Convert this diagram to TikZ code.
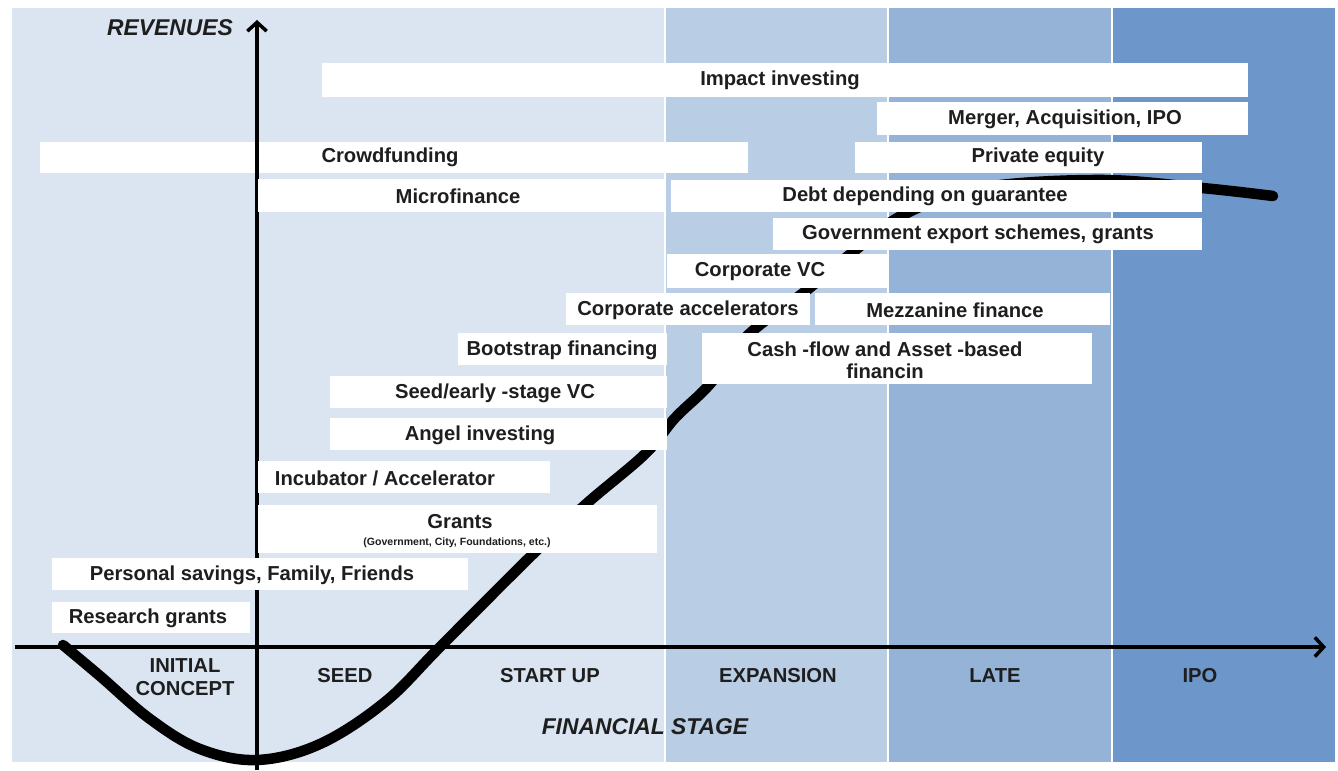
\documentclass[tikz,border=0pt]{standalone}
\usepackage{fontspec}
\setmainfont{Liberation Sans}
\usetikzlibrary{arrows.meta}
\definecolor{stageone}{HTML}{DAE5F1}
\definecolor{stagetwo}{HTML}{B9CDE5}
\definecolor{stagethree}{HTML}{95B3D7}
\definecolor{stagefour}{HTML}{6D96CA}
\definecolor{inkgray}{HTML}{1E1E1E}

\tikzset{
  fundbox/.style={fill=white,draw=none},
  fund/.style={font=\fontsize{11.5}{12.5}\selectfont\bfseries,text=inkgray,inner sep=0pt,align=center},
  stage/.style={font=\fontsize{11.5}{13}\selectfont\bfseries,text=inkgray,align=center},
  axislabel/.style={font=\fontsize{13}{15}\selectfont\bfseries\itshape,text=inkgray},
  axisline/.style={line width=2.2pt,-{Straight Barb[length=5pt,width=11pt,line width=2pt]}}
}

\begin{document}
\begin{tikzpicture}[x=0.2cm,y=0.2cm]
  \useasboundingbox[fill=white] (0,0) rectangle (133.8,77);

  % stage columns
  \fill[stageone]   (1.2,0.8) rectangle (66.5,76.2);
  \fill[stagetwo]   (66.5,0.8) rectangle (88.8,76.2);
  \fill[stagethree] (88.8,0.8) rectangle (111.2,76.2);
  \fill[stagefour]  (111.2,0.8) rectangle (133.5,76.2);
  \foreach \x in {66.5,88.8,111.2}
    \draw[white,line width=0.8pt] (\x,0.8) -- (\x,76.2);

  % revenue curve, hidden behind the boxes further up
  \draw[line width=6pt,line cap=round] plot[smooth,tension=0.6] coordinates {
    (6.3,12.5) (10,9.4) (15,5.1) (20,2.1) (25.7,1) (32,2.6) (38.5,6.8) (44,12.3)
    (53,21.3) (58.5,26.5) (64.5,31.6) (67.5,35.2) (71,38.6) (74.7,43.4) (80.7,48)
    (85.3,51.8) (90.3,55.5) (98,58.2) (110,59) (120.2,58.2) (127.3,57.4)};

  \fill[fundbox] (4,62.8) rectangle (74.8,59.7);
  \node[fund] (crowd) at (39,61.3) {Crowdfunding};

  % axes
  \coordinate (xstart) at (1.5,12.3);
  \coordinate (xend) at (132.6,12.3);
  \coordinate (ystart) at (25.7,0);
  \coordinate (yend) at (25.7,75);
  \draw[axisline] (xstart) -- (xend);
  \draw[axisline] (ystart) -- (yend);
  \node[axislabel,anchor=east] (rev) at (23.9,74.2) {REVENUES};
  \node[axislabel] (finstage) at (64.5,4.3) {FINANCIAL STAGE};

  % financing sources
  \fill[fundbox] (32.2,70.7) rectangle (124.8,67.3);
  \node[fund] (impact) at (78,69) {Impact investing};
  \fill[fundbox] (87.7,66.8) rectangle (124.8,63.5);
  \node[fund] (merger) at (106.5,65.1) {Merger, Acquisition, IPO};
  \fill[fundbox] (85.5,62.8) rectangle (120.2,59.7);
  \node[fund] (private) at (103.8,61.3) {Private equity};
  \fill[fundbox] (25.8,59.1) rectangle (66.5,55.8);
  \node[fund] (micro) at (45.8,57.4) {Microfinance};
  \fill[fundbox] (67.1,59) rectangle (120.2,55.8);
  \node[fund] (debt) at (92.5,57.4) {Debt depending on guarantee};
  \fill[fundbox] (77.3,55.2) rectangle (120.2,52);
  \node[fund] (export) at (97.8,53.6) {Government export schemes, grants};
  \fill[fundbox] (66.7,51.6) rectangle (88.7,48.2);
  \node[fund] (corpvc) at (76,49.8) {Corporate VC};
  \fill[fundbox] (56.6,47.7) rectangle (81,44.5);
  \node[fund] (corpacc) at (68.8,46) {Corporate accelerators};
  \fill[fundbox] (81.5,47.7) rectangle (111,44.5);
  \node[fund] (mezz) at (95.5,46) {Mezzanine finance};
  \fill[fundbox] (45.8,43.7) rectangle (66.7,40.5);
  \node[fund] (bootstrap) at (56.2,42) {Bootstrap financing};
  \fill[fundbox] (70.2,43.7) rectangle (109.2,38.6);
  \node[fund] (cashflow) at (88.5,41) {Cash -flow and Asset -based\\financin};
  \fill[fundbox] (33,39.4) rectangle (66.7,36.2);
  \node[fund] (seedvc) at (49.5,37.7) {Seed/early -stage VC};
  \fill[fundbox] (33,35.2) rectangle (66.7,32);
  \node[fund] (angel) at (48,33.5) {Angel investing};
  \fill[fundbox] (25.8,30.9) rectangle (55,27.7);
  \node[fund] (incub) at (38.5,29.2) {Incubator / Accelerator};
  \fill[fundbox] (25.8,26.5) rectangle (65.7,21.7);
  \node[fund] (grants) at (46,24.8) {Grants};
  \node[fund,font=\fontsize{6}{7}\selectfont\bfseries] (grantsub) at (45.7,22.7)
    {(Government, City, Foundations, etc.)};
  \fill[fundbox] (5.2,21.2) rectangle (46.8,18);
  \node[fund] (savings) at (25.2,19.5) {Personal savings, Family, Friends};
  \fill[fundbox] (5.2,16.8) rectangle (25,13.7);
  \node[fund] (research) at (14.8,15.2) {Research grants};

  % stage names
  \node[stage] (initial) at (18.5,9.3) {INITIAL\\CONCEPT};
  \node[stage] (seed) at (34.5,9.4) {SEED};
  \node[stage] (startup) at (55,9.4) {START UP};
  \node[stage] (expansion) at (77.8,9.4) {EXPANSION};
  \node[stage] (late) at (99.5,9.4) {LATE};
  \node[stage] (ipo) at (120,9.4) {IPO};
\end{tikzpicture}
\end{document}
